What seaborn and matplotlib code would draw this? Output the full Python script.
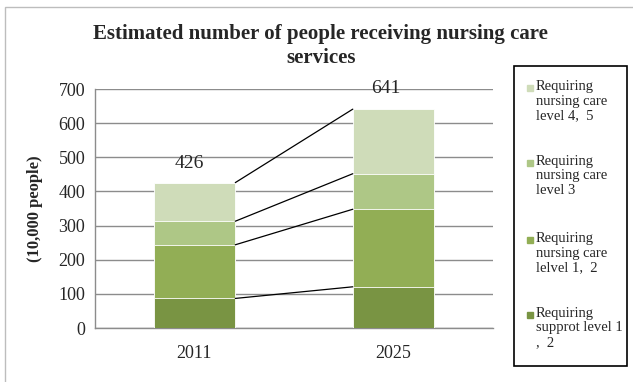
import numpy as np
import pandas as pd
import matplotlib
matplotlib.use("Agg")
import matplotlib.pyplot as plt
from matplotlib.patches import Rectangle
import seaborn as sns

# Data (10,000 people)
years = ["2011", "2025"]
support_1_2 = [87, 121]
care_1_2 = [157, 227]
care_3 = [69, 104]
care_4_5 = [113, 189]

series_labels = [
    "Requiring\nsupprot level 1\n,  2",
    "Requiring\nnursing care\nlelvel 1,  2",
    "Requiring\nnursing care\nlevel 3",
    "Requiring\nnursing care\nlevel 4,  5",
]
colors = ["#799443", "#92ae55", "#aec786", "#cfdcb9"]

sns.set_style("white")
plt.rcParams["font.family"] = ["Liberation Serif", "DejaVu Serif"]

# cumulative stacks
stack = np.cumsum(np.array([support_1_2, care_1_2, care_3, care_4_5]), axis=0)
totals = stack[-1]

W, H = 633, 382
fig = plt.figure(figsize=(W / 100, H / 100), dpi=100)
ax = fig.add_axes([0.150, 0.141, 0.629, 0.626])

bar_w = 0.41
# draw from the top of the stack down so lower segments overlay upper ones
for i in range(3, -1, -1):
    df = pd.DataFrame({"year": years, "value": stack[i]})
    sns.barplot(data=df, x="year", y="value", color=colors[i], width=bar_w,
                saturation=1, ax=ax, edgecolor="white", linewidth=0.6, zorder=3)

# connector lines between the stacks
for i in range(4):
    ax.plot([0 + bar_w / 2, 1 - bar_w / 2], [stack[i][0], stack[i][1]],
            color="black", lw=0.9, zorder=4)

# total labels
ax.text(-0.025, totals[0] + 30, str(totals[0]), ha="center", va="bottom", fontsize=14)
ax.text(0.96, totals[1] + 35, str(totals[1]), ha="center", va="bottom", fontsize=14,
        clip_on=False)

ax.set_ylim(0, 700)
ax.set_xlim(-0.5, 1.5)
ax.set_yticks(range(0, 701, 100))
ax.yaxis.grid(True, color="#8c8c8c", lw=1)
ax.set_axisbelow(True)
ax.tick_params(axis="y", labelsize=13, length=4, color="#8c8c8c", direction="out", pad=3)
ax.tick_params(axis="x", labelsize=13, length=0, pad=12)
ax.set_xticks([-0.5, 0.5, 1.5], minor=True)
ax.tick_params(axis="x", which="minor", length=4, color="#8c8c8c", direction="out")
ax.set_xlabel("")
ax.set_ylabel("(10,000 people)", fontsize=12, fontweight="bold", labelpad=11)
for s in ["top", "right"]:
    ax.spines[s].set_visible(False)
for s in ["left", "bottom"]:
    ax.spines[s].set_color("#8c8c8c")
    ax.spines[s].set_linewidth(1)

fig.text(0.507, 0.88, "Estimated number of people receiving nursing care\nservices",
         ha="center", va="center", fontsize=15, fontweight="bold", linespacing=1.25)

# legend box drawn by hand to match the tall boxed layout
fig.patches.append(Rectangle((514 / W, 1 - 366 / H), 113 / W, 300 / H,
                             transform=fig.transFigure, fill=False,
                             edgecolor="black", lw=1.2))
entry_y = [88, 163, 240, 315]
for k, i in enumerate(range(3, -1, -1)):
    y = entry_y[k]
    fig.patches.append(Rectangle((527 / W, 1 - (y + 3) / H), 6 / W, 6 / H,
                                 transform=fig.transFigure, color=colors[i]))
    fig.text(536 / W, 1 - (y - 8) / H, series_labels[i], ha="left", va="top",
             fontsize=10.5, linespacing=1.15)

# outer chart border
fig.patches.append(Rectangle((5 / W, -0.05), 1.1, 1 - 7 / H + 0.05,
                             transform=fig.transFigure, fill=False,
                             edgecolor="#bdbdbd", lw=1))

fig.savefig("out.png", dpi=100)
